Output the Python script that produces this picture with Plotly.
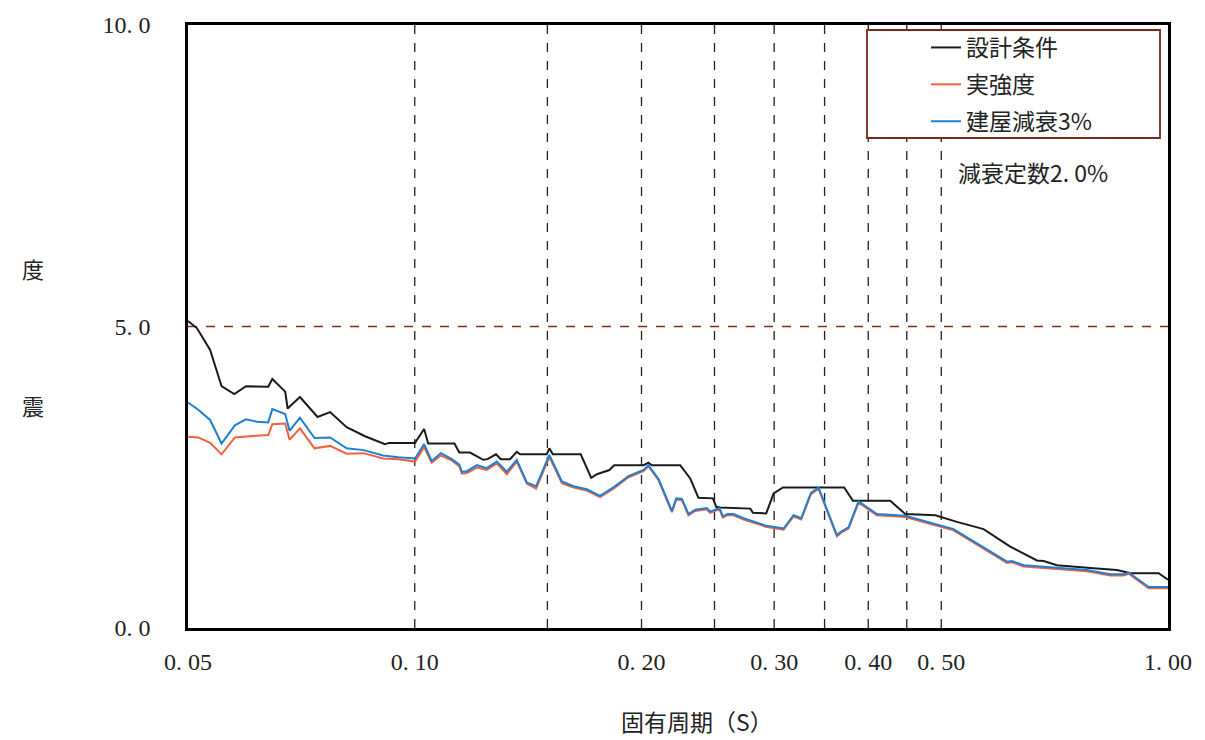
import plotly.graph_objects as go
import math

# ---- data (period in s, seismic intensity) ----
design_T = [0.0500, 0.0514, 0.0535, 0.0554, 0.0576, 0.0597, 0.0639, 0.0647, 0.0673, 0.0678,
            0.0704, 0.0734, 0.0743, 0.0772, 0.0812, 0.0859, 0.0913, 0.0924, 0.1001, 0.1003,
            0.1029, 0.1042, 0.1129, 0.1146, 0.1184, 0.1233, 0.1249, 0.1282, 0.1301, 0.1338,
            0.1366, 0.1380, 0.1497, 0.1509, 0.1525, 0.1661, 0.1715, 0.1745, 0.1813, 0.1840,
            0.2012, 0.2043, 0.2064, 0.2251, 0.2321, 0.2380, 0.2488, 0.2513, 0.2544, 0.2789,
            0.2812, 0.2928, 0.2995, 0.3082, 0.3716, 0.3817, 0.4278, 0.4479, 0.4911, 0.5246,
            0.5690, 0.6174, 0.6700, 0.6836, 0.7122, 0.7964, 0.8557, 0.8912, 0.9719, 1.0000]
design_v = [5.09, 4.97, 4.61, 4.01, 3.88, 4.01, 4.00, 4.13, 3.92, 3.64,
            3.83, 3.57, 3.50, 3.58, 3.33, 3.18, 3.05, 3.07, 3.07, 3.09,
            3.30, 3.06, 3.06, 2.91, 2.91, 2.79, 2.80, 2.88, 2.80, 2.80,
            2.92, 2.88, 2.88, 2.98, 2.88, 2.88, 2.49, 2.55, 2.62, 2.70,
            2.70, 2.74, 2.70, 2.70, 2.48, 2.16, 2.15, 2.01, 2.00, 1.98,
            1.91, 1.90, 2.23, 2.33, 2.33, 2.11, 2.11, 1.89, 1.87, 1.76,
            1.64, 1.35, 1.12, 1.11, 1.04, 0.99, 0.96, 0.91, 0.91, 0.80]

resp_T = [0.0500, 0.0516, 0.0535, 0.0554, 0.0577, 0.0597, 0.0617, 0.0639, 0.0647, 0.0673,
          0.0682, 0.0704, 0.0736, 0.0772, 0.0812, 0.0855, 0.0908, 0.0951, 0.1001, 0.1029,
          0.1053, 0.1083, 0.1120, 0.1146, 0.1155, 0.1173, 0.1209, 0.1246, 0.1285, 0.1325,
          0.1366, 0.1409, 0.1449, 0.1509, 0.1568, 0.1624, 0.1692, 0.1762, 0.1840, 0.1922,
          0.2012, 0.2043, 0.2107, 0.2195, 0.2224, 0.2263, 0.2309, 0.2357, 0.2442, 0.2467,
          0.2538, 0.2565, 0.2601, 0.2649, 0.2732, 0.2846, 0.2920, 0.3088, 0.3183, 0.3259,
          0.3357, 0.3436, 0.3536, 0.3634, 0.3682, 0.3766, 0.3883, 0.4107, 0.4479, 0.4937,
          0.5192, 0.6113, 0.6207, 0.6431, 0.6908, 0.7805, 0.8383, 0.8732, 0.8866, 0.9427,
          1.0000]
real_v = [3.17, 3.16, 3.07, 2.88, 3.16, 3.18, 3.19, 3.20, 3.38, 3.39,
          3.12, 3.31, 2.98, 3.02, 2.89, 2.90, 2.81, 2.80, 2.76, 3.00,
          2.74, 2.86, 2.78, 2.68, 2.56, 2.57, 2.66, 2.62, 2.73, 2.55,
          2.76, 2.39, 2.31, 2.84, 2.40, 2.33, 2.28, 2.17, 2.32, 2.50,
          2.60, 2.68, 2.45, 1.92, 2.13, 2.12, 1.87, 1.94, 1.97, 1.91,
          1.97, 1.83, 1.87, 1.87, 1.80, 1.73, 1.68, 1.63, 1.85, 1.80,
          2.22, 2.31, 1.91, 1.52, 1.58, 1.65, 2.08, 1.87, 1.84, 1.69,
          1.62, 1.08, 1.09, 1.02, 0.99, 0.94, 0.87, 0.87, 0.90, 0.66,
          0.66]
damp_v = [3.74, 3.62, 3.45, 3.06, 3.36, 3.46, 3.42, 3.41, 3.63, 3.55,
          3.27, 3.49, 3.15, 3.16, 2.98, 2.95, 2.86, 2.83, 2.81, 3.05,
          2.77, 2.90, 2.80, 2.71, 2.59, 2.60, 2.70, 2.65, 2.76, 2.59,
          2.79, 2.41, 2.35, 2.87, 2.43, 2.35, 2.30, 2.19, 2.34, 2.52,
          2.62, 2.70, 2.47, 1.94, 2.15, 2.14, 1.89, 1.96, 1.99, 1.93,
          1.99, 1.85, 1.89, 1.89, 1.82, 1.75, 1.70, 1.65, 1.87, 1.82,
          2.24, 2.33, 1.93, 1.54, 1.60, 1.67, 2.10, 1.89, 1.86, 1.71,
          1.64, 1.10, 1.11, 1.04, 1.01, 0.96, 0.89, 0.89, 0.92, 0.68,
          0.68]

series_names = ["設計条件", "実強度", "建屋減衰3%"]
x_tick_vals = [0.05, 0.10, 0.20, 0.30, 0.40, 0.50, 1.00]
x_tick_text = ["0. 05", "0. 10", "0. 20", "0. 30", "0. 40", "0. 50", "1. 00"]
y_tick_vals = [0, 5, 10]
y_tick_text = ["0. 0", "5. 0", "10. 0"]
v_grid = [0.10, 0.15, 0.20, 0.25, 0.30, 0.35, 0.40, 0.45, 0.50]
h_grid = [5.0]

SERIF = "Liberation Serif, Noto Sans CJK JP, serif"
CJK = "Noto Sans CJK JP, sans-serif"

fig = go.Figure()
fig.add_trace(go.Scatter(x=design_T, y=design_v, mode="lines", name=series_names[0],
                         line=dict(color="#1a1a1a", width=2), legendgroup="a"))
fig.add_trace(go.Scatter(x=resp_T, y=real_v, mode="lines", name=series_names[1],
                         line=dict(color="#f2603e", width=2), legendgroup="b"))
fig.add_trace(go.Scatter(x=resp_T, y=damp_v, mode="lines", name=series_names[2],
                         line=dict(color="#1f7fd2", width=2), legendgroup="c"))

shapes = []
for v in v_grid:
    shapes.append(dict(type="line", xref="x", yref="paper", x0=v, x1=v, y0=0, y1=1,
                       line=dict(color="#222222", width=1.3, dash="dash"), layer="below"))
for h in h_grid:
    shapes.append(dict(type="line", xref="paper", yref="y", x0=0, x1=1, y0=h, y1=h,
                       line=dict(color="#8b2a10", width=1.3, dash="dash"), layer="below"))
# legend frame
shapes.append(dict(type="rect", xref="paper", yref="paper",
                   x0=(867 - 188) / 980, x1=(1160 - 188) / 980,
                   y0=(628 - 138) / 603, y1=(628 - 30) / 603,
                   line=dict(color="#7a2a1a", width=1.8), fillcolor="white", layer="above"))

annotations = [
    dict(text="減衰定数2. 0%", xref="paper", yref="paper", x=(956 - 188) / 980, y=(628 - 172) / 603,
         xanchor="left", yanchor="middle", showarrow=False, font=dict(family=CJK, size=23, color="#222")),
    dict(text="固有周期（S）", xref="paper", yref="paper", x=(697 - 188) / 980, y=(628 - 721) / 603,
         xanchor="center", yanchor="middle", showarrow=False, font=dict(family=CJK, size=23, color="#222")),
    dict(text="度", xref="paper", yref="paper", x=(33 - 188) / 980, y=(628 - 268) / 603,
         xanchor="center", yanchor="middle", showarrow=False, font=dict(family=CJK, size=22, color="#222")),
    dict(text="震", xref="paper", yref="paper", x=(33 - 188) / 980, y=(628 - 405) / 603,
         xanchor="center", yanchor="middle", showarrow=False, font=dict(family=CJK, size=22, color="#222")),
]

fig.update_layout(
    width=1205, height=740,
    margin=dict(l=188, r=37, t=25, b=112),
    paper_bgcolor="white", plot_bgcolor="white",
    shapes=shapes, annotations=annotations,
    showlegend=True,
    legend=dict(x=(926 - 188) / 980, y=(628 - 26) / 603, xanchor="left", yanchor="top",
                bgcolor="rgba(0,0,0,0)", borderwidth=0, tracegroupgap=4,
                font=dict(family=CJK, size=23, color="#222"), itemwidth=30),
    xaxis=dict(type="log", range=[math.log10(0.05), 0], tickvals=x_tick_vals, ticktext=x_tick_text,
               showgrid=False, zeroline=False, showline=True, mirror=True, linecolor="black",
               linewidth=2.5, ticks="", ticklabelstandoff=10,
               tickfont=dict(family=SERIF, size=24, color="#222")),
    yaxis=dict(range=[0, 10], tickvals=y_tick_vals, ticktext=y_tick_text,
               showgrid=False, zeroline=False, showline=True, mirror=True, linecolor="black",
               linewidth=2.5, ticks="", ticklabelstandoff=30,
               tickfont=dict(family=SERIF, size=24, color="#222")),
)

fig.write_html("out.html", config={"displayModeBar": False},
               post_script="document.body.style.margin='0';document.body.style.padding='0';")
